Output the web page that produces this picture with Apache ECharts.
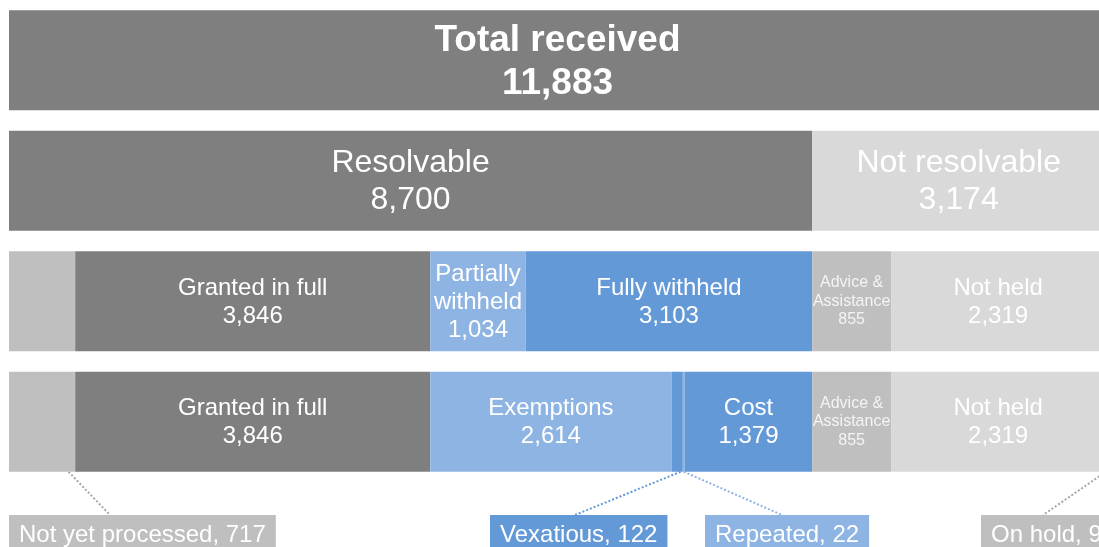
<!DOCTYPE html>
<html>
<head>
<meta charset="utf-8">
<title>Requests received</title>
<script src="https://cdn.jsdelivr.net/npm/echarts@6/dist/echarts.min.js"></script>
<style>
  html, body { margin: 0; padding: 0; background: #fff; }
  #chart { width: 1099px; height: 547px; }
</style>
</head>
<body>
<div id="chart"></div>
<script>
// rows, top to bottom
var rowNames = ['Total', 'Resolvable split', 'Outcome', 'Refusal reason'];

var totalLabels = ['Total received'];
var totalValues = [11883];

var splitLabels = ['Resolvable', 'Not resolvable', 'On hold'];
var splitValues = [8700, 3174, 9];

var outcomeLabels = ['Not yet processed', 'Granted in full', 'Partially withheld', 'Fully withheld',
    'Advice & Assistance', 'Not held', 'On hold'];
var outcomeValues = [717, 3846, 1034, 3103, 855, 2319, 9];

var reasonLabels = ['Not yet processed', 'Granted in full', 'Exemptions', 'Vexatious', 'Repeated', 'Cost',
    'Advice & Assistance', 'Not held', 'On hold'];
var reasonValues = [717, 3846, 2614, 122, 22, 1379, 855, 2319, 9];

var FONT = '"Liberation Sans", Arial, sans-serif';

var colors = {
    'Total received': '#7f7f7f',
    'Resolvable': '#7f7f7f',
    'Not resolvable': '#d9d9d9',
    'On hold': '#bfbfbf',
    'Not yet processed': '#bfbfbf',
    'Granted in full': '#7f7f7f',
    'Partially withheld': '#8db4e2',
    'Fully withheld': '#6499d8',
    'Advice & Assistance': '#bfbfbf',
    'Not held': '#d9d9d9',
    'Exemptions': '#8db4e2',
    'Vexatious': '#6499d8',
    'Repeated': '#8db4e2',
    'Cost': '#6499d8'
};

// names shown on the bar itself (wrapped)
var wrapped = {
    'Partially withheld': 'Partially\nwithheld',
    'Advice & Assistance': 'Advice &\nAssistance'
};
var noBarLabel = ['Not yet processed', 'Vexatious', 'Repeated', 'On hold'];

function fmt(v) {
    return v.toLocaleString('en-US');
}

function labelFor(row, name) {
    if (noBarLabel.indexOf(name) >= 0) {
        return { show: false };
    }
    var base = { show: true, position: 'inside', color: '#fff', fontFamily: FONT };
    if (row === 0) {
        return Object.assign(base, { fontSize: 37, fontWeight: 'bold', lineHeight: 43, offset: [0, 2],
            formatter: function(p) { return name + '\n' + fmt(p.value); } });
    }
    if (row === 1) {
        return Object.assign(base, { fontSize: 32, lineHeight: 37, offset: [0, 1],
            formatter: function(p) { return name + '\n' + fmt(p.value); } });
    }
    if (name === 'Advice & Assistance') {
        return Object.assign(base, { fontSize: 16, lineHeight: 18.5, color: '#f4f4f4',
            formatter: function(p) { return wrapped[name] + '\n' + fmt(p.value); } });
    }
    return Object.assign(base, { fontSize: 24, lineHeight: 28, offset: [0, 1],
        formatter: function(p) { return (wrapped[name] || name) + '\n' + fmt(p.value); } });
}

var rowData = [
    [totalLabels, totalValues],
    [splitLabels, splitValues],
    [outcomeLabels, outcomeValues],
    [reasonLabels, reasonValues]
];

var series = [];
rowData.forEach(function(rd, row) {
    rd[0].forEach(function(name, i) {
        var data = rowNames.map(function(_, r) { return r === row ? rd[1][i] : '-'; });
        series.push({
            type: 'bar',
            name: name + ' ' + row,
            stack: 'all',
            barWidth: 100,
            data: data,
            itemStyle: { color: colors[name] },
            label: labelFor(row, name),
            emphasis: { disabled: true },
            silent: true,
            animation: false
        });
    });
});

var chart = echarts.init(document.getElementById('chart'));
chart.setOption({
    backgroundColor: '#fff',
    animation: false,
    grid: { left: 9, top: 0, width: 1097, height: 482, containLabel: false, outerBoundsMode: 'none' },
    xAxis: { type: 'value', min: 0, max: totalValues[0], show: false },
    yAxis: { type: 'category', data: rowNames, inverse: true, show: false },
    series: series
});

// call-outs for the thin segments of the bottom row
var callouts = [
    { name: 'Not yet processed', at: 0.9, boxX: 9, lineX: 110, fill: '#bfbfbf', stroke: '#a6a6a6' },
    { name: 'Vexatious', at: 0.8, boxX: 490, lineX: 575, fill: '#6499d8', stroke: '#6499d8' },
    { name: 'Repeated', at: 0.5, boxX: 705, lineX: 782, fill: '#8db4e2', stroke: '#8db4e2' },
    { name: 'On hold', at: 1, boxX: 981, lineX: 1043, fill: '#bfbfbf', stroke: '#a6a6a6' }
];
var boxTop = 515;
var lastRow = rowNames.length - 1;
var graphics = [];
callouts.forEach(function(c) {
    var idx = reasonLabels.indexOf(c.name);
    var start = 0;
    for (var i = 0; i < idx; i++) start += reasonValues[i];
    var pt = chart.convertToPixel({ gridIndex: 0 }, [start + reasonValues[idx] * c.at, rowNames[lastRow]]);
    graphics.push({
        type: 'line',
        silent: true,
        shape: { x1: pt[0], y1: pt[1] + 50, x2: c.lineX, y2: boxTop },
        style: { stroke: c.stroke, lineWidth: 2, lineDash: [2, 2] }
    });
    graphics.push({
        type: 'text',
        silent: true,
        x: c.boxX,
        y: boxTop,
        style: {
            text: c.name + ', ' + fmt(reasonValues[idx]),
            fill: '#fff',
            font: '24px ' + FONT,
            backgroundColor: c.fill,
            padding: [8, 10, 4, 10],
            verticalAlign: 'top',
            align: 'left'
        }
    });
});
chart.setOption({ graphic: graphics });

window.addEventListener('resize', function() {
    chart.resize();
});
</script>
</body>
</html>
